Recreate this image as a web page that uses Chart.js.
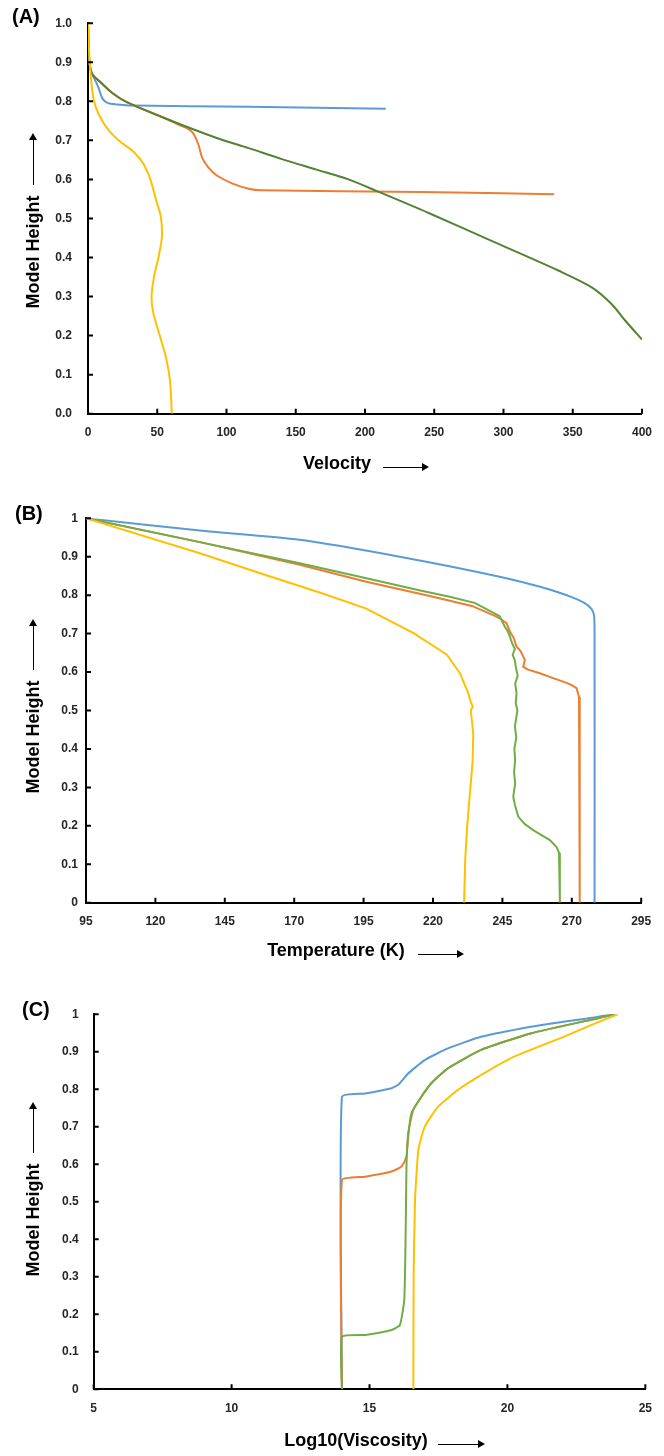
<!DOCTYPE html>
<html>
<head>
<meta charset="utf-8">
<script src="https://cdn.jsdelivr.net/npm/chart.js@4.4.1/dist/chart.umd.min.js"></script>
<style>
  html, body { margin: 0; padding: 0; background: #fff; }
  #wrap { position: relative; width: 664px; height: 1456px; background: #fff; font-family: 'Liberation Sans', Arial, sans-serif; }
  canvas { position: absolute; left: 0; }
  .panel { position: absolute; font-weight: bold; font-size: 20px; color: #000; }
  .ytitle { position: absolute; left: 33px; transform: translate(-50%, -50%) rotate(-90deg); font-weight: bold; font-size: 18px; white-space: nowrap; color: #000; }
  .xtitle { position: absolute; transform: translate(-50%, -50%); font-weight: bold; font-size: 18px; white-space: nowrap; color: #000; }
  .varrow { position: absolute; left: 33px; width: 0; border-left: 1.5px solid #000; }
  .varrow::before { content: ''; position: absolute; left: -4.75px; top: -6px; border-left: 4px solid transparent; border-right: 4px solid transparent; border-bottom: 7px solid #000; }
  .harrow { position: absolute; height: 0; border-top: 1.5px solid #000; }
  .harrow::after { content: ''; position: absolute; right: -7px; top: -4.75px; border-top: 4px solid transparent; border-bottom: 4px solid transparent; border-left: 7px solid #000; }
</style>
</head>
<body>
<div id="wrap">
  <canvas id="chartA" width="664" height="480" style="top:0"></canvas>
  <canvas id="chartB" width="664" height="490" style="top:480px"></canvas>
  <canvas id="chartC" width="664" height="486" style="top:970px"></canvas>

  <div class="panel" style="left:12px;top:5px">(A)</div>
  <div class="varrow" style="top:139px;height:46px"></div>
  <div class="ytitle" style="top:252px">Model Height</div>
  <div class="xtitle" style="left:337px;top:463px">Velocity</div>
  <div class="harrow" style="left:383px;top:467px;width:39px"></div>

  <div class="panel" style="left:15px;top:502px">(B)</div>
  <div class="varrow" style="top:625px;height:45px"></div>
  <div class="ytitle" style="top:737px">Model Height</div>
  <div class="xtitle" style="left:336px;top:950px">Temperature (K)</div>
  <div class="harrow" style="left:418px;top:954px;width:39px"></div>

  <div class="panel" style="left:22px;top:998px">(C)</div>
  <div class="varrow" style="top:1108px;height:45px"></div>
  <div class="ytitle" style="top:1220px">Model Height</div>
  <div class="xtitle" style="left:356px;top:1440px">Log10(Viscosity)</div>
  <div class="harrow" style="left:438px;top:1444px;width:40px"></div>
</div>

<script>
// tick values
const velTicks = [0, 50, 100, 150, 200, 250, 300, 350, 400];
const tempTicks = [95, 120, 145, 170, 195, 220, 245, 270, 295];
const viscTicks = [5, 10, 15, 20, 25];
const heightTicks = [0, 0.1, 0.2, 0.3, 0.4, 0.5, 0.6, 0.7, 0.8, 0.9, 1];

// (A) velocity vs model height  [velocity, height]
const aBlue = [[0,1.0],[0.3,0.95],[1,0.9],[3,0.87],[6.9,0.841],[10.4,0.807],[13,0.798],[16.3,0.794],[32.8,0.789],[115,0.786],[215,0.781]];
const aOrange = [[0,1.0],[0.3,0.95],[1,0.9],[3,0.87],[9,0.849],[18,0.82],[28,0.798],[56,0.756],[66,0.739],[72,0.730],[76,0.718],[78.5,0.70],[80.1,0.685],[82.5,0.655],[87,0.630],[93,0.610],[104,0.590],[116,0.576],[125,0.572],[240,0.568],[336.6,0.562]];
const aGreen = [[0,1.0],[0.3,0.95],[1,0.9],[3,0.87],[9,0.849],[18,0.82],[28,0.798],[56,0.756],[93,0.706],[116,0.680],[140,0.652],[165,0.625],[188,0.600],[210,0.568],[246,0.514],[293,0.440],[340,0.366],[364,0.323],[378,0.281],[388,0.238],[400,0.19]];
const aYellow = [[0,1.0],[0.5,0.95],[1.6,0.883],[3,0.83],[4.5,0.798],[8,0.765],[14,0.730],[22,0.700],[32.8,0.671],[40,0.640],[45,0.600],[49.4,0.544],[52.5,0.506],[53.4,0.455],[51.1,0.404],[47.8,0.353],[45.9,0.302],[47,0.260],[51.8,0.200],[56.5,0.141],[59.3,0.081],[60.5,0.0]];

// (B) temperature vs model height  [K, height]
const bBlue = [[95,1],[136,0.968],[172,0.944],[208,0.900],[244,0.848],[262,0.815],[270,0.795],[274.5,0.780],[277,0.765],[278,0.748],[278.2,0.70],[278.2,0]];
const bOrange = [[95,1],[136,0.938],[172,0.879],[196,0.835],[220,0.796],[234,0.772],[241.7,0.748],[244,0.740],[246.5,0.727],[247.7,0.705],[249,0.690],[250.1,0.666],[251.5,0.655],[253.1,0.631],[252.5,0.614],[254,0.607],[258.5,0.597],[263,0.585],[266.9,0.575],[270,0.566],[271.7,0.558],[272.6,0.536],[272.8,0.45],[272.9,0]];
const bGreen = [[95,1],[136,0.938],[172,0.883],[196,0.844],[215,0.813],[226,0.796],[235,0.780],[242.3,0.752],[244,0.745],[245.9,0.718],[247,0.705],[247.7,0.692],[248.5,0.675],[249.5,0.660],[248.7,0.645],[249.5,0.630],[249.8,0.614],[250.5,0.590],[249.6,0.570],[250.1,0.545],[249.8,0.52],[250.4,0.50],[249.5,0.458],[250,0.43],[249.3,0.40],[249.6,0.371],[249.2,0.34],[249.6,0.31],[248.9,0.276],[249.5,0.255],[250.7,0.224],[253,0.205],[256.1,0.189],[262.1,0.163],[264.5,0.145],[265.4,0.13],[265.7,0.1],[265.7,0.068],[265.7,0]];
const bYellow = [[95,1],[136,0.909],[160,0.852],[180,0.805],[196,0.765],[213,0.701],[225,0.645],[229.7,0.597],[232.7,0.545],[233.5,0.525],[234.3,0.510],[233.6,0.50],[234.5,0.44],[234.3,0.371],[233.3,0.284],[232.3,0.198],[231.6,0.111],[231.2,0]];

// (C) log10 viscosity vs model height  [log10, height]
const cBlue = [[14,0],[14,0.780],[14.84,0.789],[15.8,0.803],[16.04,0.812],[16.4,0.842],[17,0.878],[17.84,0.909],[19.04,0.940],[20.84,0.967],[23.25,0.993],[23.8,1.0]];
const cOrange = [[14,0],[14,0.558],[14.84,0.567],[15.8,0.581],[16.16,0.594],[16.34,0.620],[16.4,0.682],[16.58,0.744],[16.88,0.780],[17.24,0.816],[17.84,0.856],[19.04,0.905],[20.84,0.949],[23.25,0.989],[23.9,1.0]];
const cGreen = [[14,0],[14,0.140],[14.84,0.145],[15.8,0.158],[16.1,0.171],[16.26,0.238],[16.31,0.416],[16.34,0.594],[16.38,0.656],[16.52,0.736],[16.88,0.780],[17.24,0.816],[17.84,0.856],[19.04,0.905],[20.84,0.949],[23.25,0.989],[23.9,1.0]];
const cYellow = [[16.59,0],[16.6,0.3],[16.65,0.505],[16.77,0.638],[17,0.700],[17.48,0.753],[18.2,0.798],[19.16,0.843],[20.24,0.887],[22.04,0.940],[23.25,0.978],[24.0,1.0]];

const BLUE = '#5B9BD5', ORANGE = '#ED7D31', GREEN = '#70AD47', DARKGREEN = '#548235', YELLOW = '#FFC000';

// small tick marks pointing into the plot, like the Excel original
const innerTicks = {
  id: 'innerTicks',
  afterDatasetsDraw(chart) {
    const ctx = chart.ctx;
    const a = chart.chartArea;
    const xs = chart.scales.x, ys = chart.scales.y;
    ctx.save();
    ctx.strokeStyle = '#000';
    ctx.lineWidth = 2;
    ctx.beginPath();
    xs.ticks.forEach(t => {
      const px = xs.getPixelForValue(t.value);
      ctx.moveTo(px, a.bottom);
      ctx.lineTo(px, a.bottom - 5);
    });
    ys.ticks.forEach(t => {
      const py = ys.getPixelForValue(t.value);
      ctx.moveTo(a.left, py);
      ctx.lineTo(a.left + 5, py);
    });
    ctx.stroke();
    ctx.restore();
  }
};

function series(points, color, tension) {
  return {
    data: points.map(p => ({ x: p[0], y: p[1] })),
    borderColor: color,
    borderWidth: 2,
    showLine: true,
    pointRadius: 0,
    tension: tension,
    fill: false
  };
}

function makeChart(id, datasets, cfg) {
  const tickFont = { family: "'Liberation Sans', Arial, sans-serif", size: 12, weight: 'bold' };
  return new Chart(document.getElementById(id), {
    type: 'scatter',
    data: { datasets: datasets },
    options: {
      responsive: false,
      animation: false,
      devicePixelRatio: 1,
      layout: { padding: cfg.padding },
      plugins: { legend: { display: false }, tooltip: { enabled: false } },
      scales: {
        x: {
          type: 'linear',
          min: cfg.xTicks[0],
          max: cfg.xTicks[cfg.xTicks.length - 1],
          afterBuildTicks: s => { s.ticks = cfg.xTicks.map(v => ({ value: v })); },
          afterFit: s => { s.height = 40; },
          grid: { display: true, drawOnChartArea: false, drawTicks: false, color: 'rgba(0,0,0,0)' },
          border: { color: '#000', width: 2 },
          ticks: { font: tickFont, color: '#262626', padding: 12, maxRotation: 0, autoSkip: false }
        },
        y: {
          type: 'linear',
          min: 0,
          max: 1,
          afterBuildTicks: s => { s.ticks = heightTicks.map(v => ({ value: v })); },
          afterFit: s => { s.width = cfg.yWidth; },
          grid: { display: true, drawOnChartArea: false, drawTicks: false, color: 'rgba(0,0,0,0)' },
          border: { color: '#000', width: 2 },
          ticks: {
            font: tickFont, color: '#262626', padding: cfg.yPad, autoSkip: false,
            callback: v => cfg.yFixed ? v.toFixed(1) : String(Math.round(v * 10) / 10)
          }
        }
      }
    },
    plugins: [innerTicks]
  });
}

makeChart('chartA', [
  series(aYellow, YELLOW, 0.3),
  series(aGreen, DARKGREEN, 0.3),
  series(aOrange, ORANGE, 0.3),
  series(aBlue, BLUE, 0.2)
], { xTicks: velTicks, yWidth: 88, yPad: 16, yFixed: true, padding: { top: 20.7, right: 12.3, bottom: 26.3, left: 0 } });

makeChart('chartB', [
  series(bYellow, YELLOW, 0),
  series(bGreen, GREEN, 0),
  series(bOrange, ORANGE, 0),
  series(bBlue, BLUE, 0.25)
], { xTicks: tempTicks, yWidth: 86, yPad: 8, yFixed: false, padding: { top: 38.3, right: 22.8, bottom: 27.3, left: 0 } });

makeChart('chartC', [
  series(cYellow, YELLOW, 0.15),
  series(cGreen, GREEN, 0.15),
  series(cOrange, ORANGE, 0.15),
  series(cBlue, BLUE, 0.15)
], { xTicks: viscTicks, yWidth: 93.7, yPad: 15, yFixed: false, padding: { top: 44.3, right: 15.7, bottom: 26.7, left: 0 } });
</script>
</body>
</html>
